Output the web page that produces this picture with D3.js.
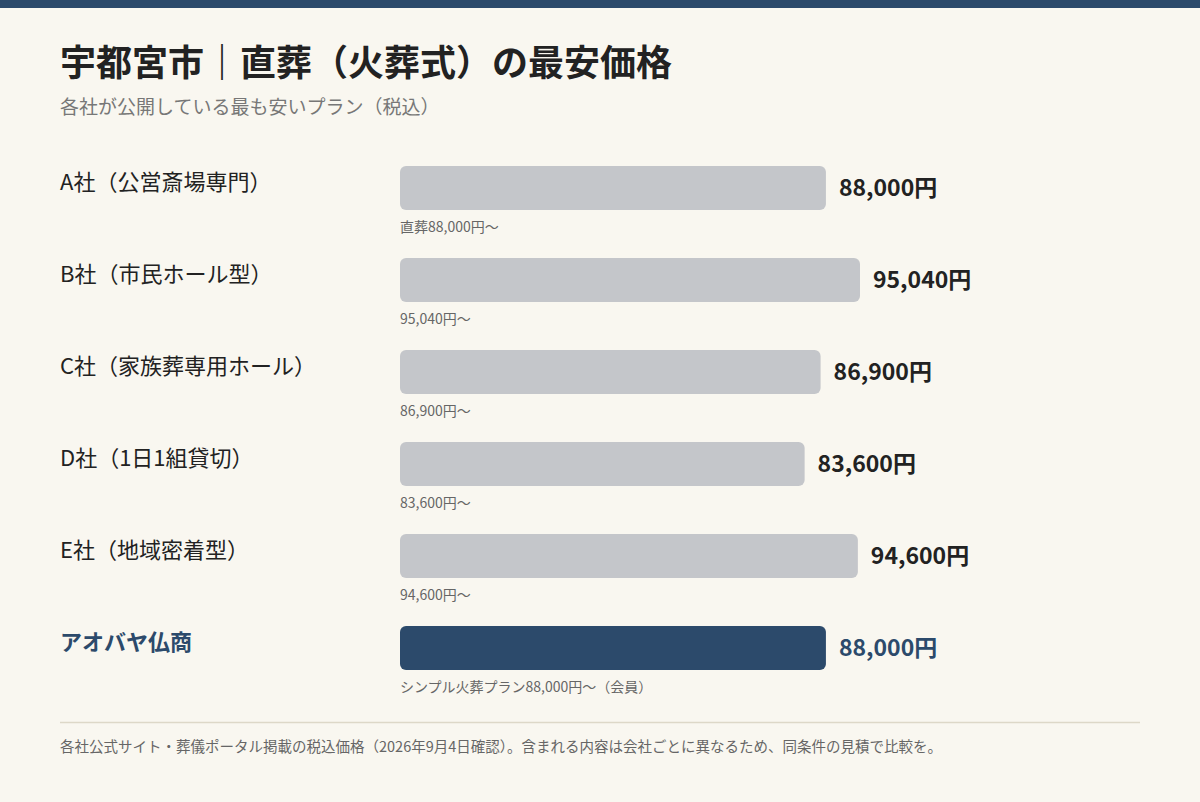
<!DOCTYPE html>
<html><head><meta charset="utf-8">
<script src="https://cdn.jsdelivr.net/npm/d3@7"></script>
<style>body{margin:0;background:#f9f7f0;}svg{display:block;font-family:"Noto Sans CJK JP",sans-serif;}</style>
</head><body>
<script>
const categories = ["A社（公営斎場専門）","B社（市民ホール型）","C社（家族葬専用ホール）","D社（1日1組貸切）","E社（地域密着型）","アオバヤ仏商"];
const prices = [88000,95040,86900,83600,94600,88000];
const notes = ["直葬88,000円～","95,040円～","86,900円～","83,600円～","94,600円～","シンプル火葬プラン88,000円～（会員）"];
const highlight = "アオバヤ仏商";

const W=1200,H=802;
const svg=d3.select("body").append("svg").attr("width",W).attr("height",H);
svg.append("rect").attr("width",W).attr("height",H).attr("fill","#f9f7f0");
svg.append("rect").attr("width",W).attr("height",8).attr("fill","#2c4a6b");
svg.append("text").attr("x",60).attr("y",76).attr("font-size",36).attr("font-weight",700).attr("fill","#222").text("宇都宮市｜直葬（火葬式）の最安価格");
svg.append("text").attr("x",60).attr("y",114).attr("font-size",19).attr("fill","#777").text("各社が公開している最も安いプラン（税込）");

const x=d3.scaleLinear().domain([0,100000]).range([400,884]);
const y=d3.scaleBand().domain(categories).range([166,166+92*6]).paddingInner(0).paddingOuter(0);
const bh=44;
const g=svg.append("g");
categories.forEach((c,i)=>{
  const hi=c===highlight, y0=y(c);
  g.append("text").attr("x",60).attr("y",y0+bh/2).attr("dy","0.1em").attr("font-size",22)
    .attr("font-weight",hi?700:400).attr("fill",hi?"#2c4a6b":"#222").text(c);
  g.append("rect").attr("x",x(0)).attr("y",y0).attr("width",x(prices[i])-x(0)).attr("height",bh)
    .attr("rx",6).attr("fill",hi?"#2c4a6b":"#c4c6ca");
  g.append("text").attr("x",x(prices[i])+13).attr("y",y0+bh/2).attr("dy","0.36em").attr("font-size",23)
    .attr("font-weight",700).attr("fill",hi?"#2c4a6b":"#222").text(d3.format(",")(prices[i])+"円");
  g.append("text").attr("x",400).attr("y",y0+bh+22).attr("font-size",14).attr("fill","#666").text(notes[i]);
});
svg.append("line").attr("x1",60).attr("x2",1140).attr("y1",722.5).attr("y2",722.5).attr("stroke","#ddd8c8").attr("stroke-width",1.5);
svg.append("text").attr("x",60).attr("y",752).attr("font-size",14.5).attr("fill","#666")
  .text("各社公式サイト・葬儀ポータル掲載の税込価格（2026年9月4日確認）。含まれる内容は会社ごとに異なるため、同条件の見積で比較を。");
</script>
</body></html>
